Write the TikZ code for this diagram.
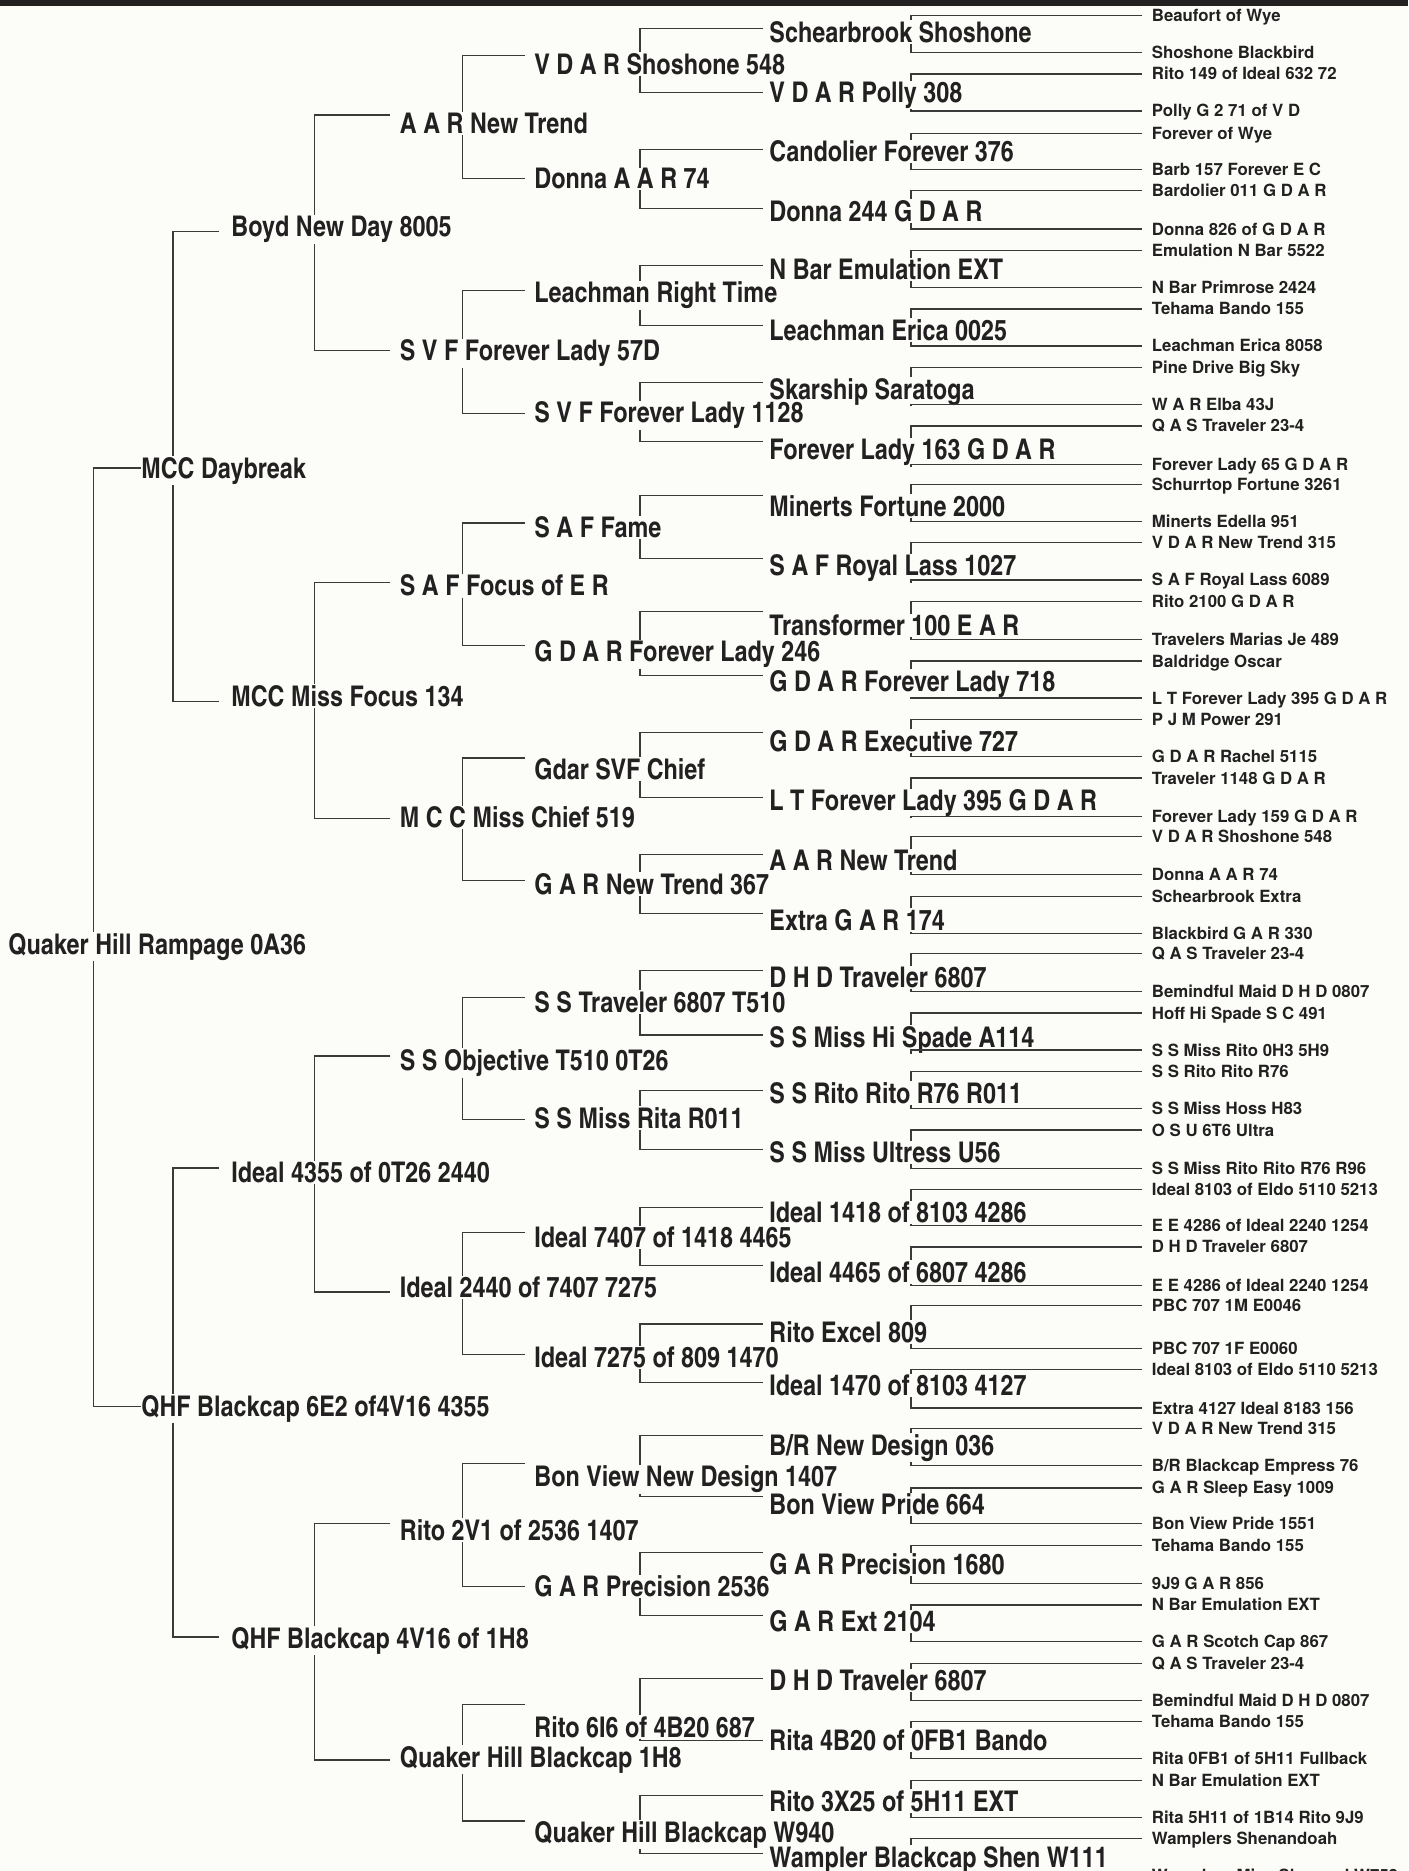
\documentclass[tikz,border=0pt]{standalone}
\usepackage{fontspec}
\setmainfont{TeX Gyre Heros}
\newfontfamily\heroscn{TeX Gyre Heros Cn}
\usetikzlibrary{backgrounds}
\definecolor{paper}{HTML}{FCFCF8}
\definecolor{ink}{HTML}{222021}
\definecolor{rule}{HTML}{3A3A3A}

\begin{document}
\begin{tikzpicture}[
        x=0.5pt, y=-0.5pt,
        tag/.style={anchor=base west, text=ink, inner xsep=2pt, inner ysep=0.3pt},
        horse/.style={tag, font=\heroscn\bfseries\fontsize{14.25}{17}\selectfont},
        leaf/.style={tag, font=\bfseries\fontsize{8.4}{10}\selectfont},
        link/.style={draw=rule, line width=0.6pt}
    ]
    \useasboundingbox (0,0) rectangle (1408,1871);
    \def\hb{10.2}
    \def\hl{6}
    % columns of the brackets
    \coordinate (b0) at (93.6,0);
    \coordinate (b1) at (172.9,0);
    \coordinate (b2) at (314.3,0);
    \coordinate (b3) at (462.4,0);
    \coordinate (b4) at (640,0);
    \coordinate (b5) at (911,0);
    % generation 0 and 1
    \node[horse] (g0-0) at (4,944+\hb) {Quaker Hill Rampage 0A36};
    \foreach \n/\tc/\ly/\lab in {0/468/468/MCC Daybreak,
        1/1406/1406.4/QHF Blackcap 6E2 of4V16 4355}{
        \node[horse] (g1-\n) at (137,\tc+\hb) {\lab};
        \coordinate (l1-\n) at (141,\ly);
    }
    % generation 2
    \foreach \n/\tc/\ly/\lab in {0/226.5/231.7/Boyd New Day 8005,
        1/696.3/701.6/MCC Miss Focus 134,
        2/1172.3/1167.9/Ideal 4355 of 0T26 2440,
        3/1638/1637/QHF Blackcap 4V16 of 1H8}{
        \node[horse] (g2-\n) at (227,\tc+\hb) {\lab};
        \coordinate (l2-\n) at (219,\ly);
    }
    % generation 3
    \foreach \n/\tc/\ly/\lab in {0/123.4/115/A A R New Trend,
        1/350.7/350.7/S V F Forever Lady 57D,
        2/585.8/582.3/S A F Focus of E R,
        3/817.4/818.5/M C C Miss Chief 519,
        4/1060.2/1056/S S Objective T510 0T26,
        5/1287.2/1292/Ideal 2440 of 7407 7275,
        6/1530/1523.7/Rito 2V1 of 2536 1407,
        7/1757/1760/Quaker Hill Blackcap 1H8}{
        \node[horse] (g3-\n) at (395.5,\tc+\hb) {\lab};
        \coordinate (l3-\n) at (390.3,\ly);
    }
    % generation 4
    \foreach \n/\tc/\ly/\lab in {0/64.2/55.4/V D A R Shoshone 548,
        1/178.8/178.2/Donna A A R 74,
        2/292.6/290.4/Leachman Right Time,
        3/412.5/413.5/S V F Forever Lady 1128,
        4/527.7/523/S A F Fame,
        5/651.4/645.6/G D A R Forever Lady 246,
        6/769.3/758/Gdar SVF Chief,
        7/884/880.4/G A R New Trend 367,
        8/1002.2/997.3/S S Traveler 6807 T510,
        9/1118.2/1119.5/S S Miss Rita R011,
        10/1237.7/1232.4/Ideal 7407 of 1418 4465,
        11/1357.4/1354.2/Ideal 7275 of 809 1470,
        12/1476.3/1463.8/Bon View New Design 1407,
        13/1586.5/1586.7/G A R Precision 2536,
        14/1726.8/1704.2/Rito 6I6 of 4B20 687,
        15/1831.8/1821/Quaker Hill Blackcap W940}{
        \node[horse] (g4-\n) at (530,\tc+\hb) {\lab};
        \coordinate (l4-\n) at (525,\ly);
    }
    % generation 5
    \foreach \n/\tc/\ly/\lab in {0/32.3/28.2/Schearbrook Shoshone,
        1/92/92.9/V D A R Polly 308,
        2/151.7/149.3/Candolier Forever 376,
        3/211/208.6/Donna 244 G D A R,
        4/269.3/265.6/N Bar Emulation EXT,
        5/330/325.5/Leachman Erica 0025,
        6/389/382.5/Skarship Saratoga,
        7/449.8/441.2/Forever Lady 163 G D A R,
        8/505.9/495.2/Minerts Fortune 2000,
        9/565.6/558.2/S A F Royal Lass 1027,
        10/625.2/611.5/Transformer 100 E A R,
        11/681.3/675.7/G D A R Forever Lady 718,
        12/741/732.6/G D A R Executive 727,
        13/800.6/797.4/L T Forever Lady 395 G D A R,
        14/860.3/854.3/A A R New Trend,
        15/920/913.1/Extra G A R 174,
        16/977.2/970.2/D H D Traveler 6807,
        17/1036.9/1034.9/S S Miss Hi Spade A114,
        18/1093/1090.7/S S Rito Rito R76 R011,
        19/1152.6/1149.4/S S Miss Ultress U56,
        20/1212.3/1207.6/Ideal 1418 of 8103 4286,
        21/1272/1265.7/Ideal 4465 of 6807 4286,
        22/1332/1323.9/Rito Excel 809,
        23/1385.3/1382.6/Ideal 1470 of 8103 4127,
        24/1445/1435.4/{B/R New Design 036},
        25/1504.6/1496.5/Bon View Pride 664,
        26/1564.3/1552.3/G A R Precision 1680,
        27/1621.6/1615.3/G A R Ext 2104,
        28/1680/1678.2/D H D Traveler 6807,
        29/1740/1740.6/Rita 4B20 of 0FB1 Bando,
        30/1801/1795.1/Rito 3X25 of 5H11 EXT,
        31/1857/1853.3/Wampler Blackcap Shen W111}{
        \node[horse] (g5-\n) at (765,\tc+\hb) {\lab};
        \coordinate (l5-\n) at (763,\ly);
    }
    % generation 6
    \foreach \ly/\lab [count=\n from 0] in {15.5/Beaufort of Wye, 52.5/Shoshone Blackbird,
        74/Rito 149 of Ideal 632 72, 111/Polly G 2 71 of V D,
        133.6/Forever of Wye, 169.4/Barb 157 Forever E C,
        190.9/Bardolier 011 G D A R, 229.1/Donna 826 of G D A R,
        250.6/Emulation N Bar 5522, 287.6/N Bar Primrose 2424,
        309/Tehama Bando 155, 346/Leachman Erica 8058,
        367.5/Pine Drive Big Sky, 404.5/W A R Elba 43J,
        426/Q A S Traveler 23-4, 464.2/Forever Lady 65 G D A R,
        484.4/Schurrtop Fortune 3261, 521.4/Minerts Edella 951,
        542.9/V D A R New Trend 315, 579.9/S A F Royal Lass 6089,
        601.4/Rito 2100 G D A R, 639.6/Travelers Marias Je 489,
        661/Baldridge Oscar, 698/L T Forever Lady 395 G D A R,
        719.5/P J M Power 291, 756.5/G D A R Rachel 5115,
        778/Traveler 1148 G D A R, 816.2/Forever Lady 159 G D A R,
        836.4/V D A R Shoshone 548, 874.6/Donna A A R 74,
        896.1/Schearbrook Extra, 933.1/Blackbird G A R 330,
        953.4/Q A S Traveler 23-4, 991.5/Bemindful Maid D H D 0807,
        1013/Hoff Hi Spade S C 491, 1050/S S Miss Rito 0H3 5H9,
        1071.5/S S Rito Rito R76, 1108.5/S S Miss Hoss H83,
        1130/O S U 6T6 Ultra, 1168.1/S S Miss Rito Rito R76 R96,
        1189.6/Ideal 8103 of Eldo 5110 5213, 1225.4/E E 4286 of Ideal 2240 1254,
        1246.9/D H D Traveler 6807, 1285.1/E E 4286 of Ideal 2240 1254,
        1305.4/PBC 707 1M E0046, 1348.3/PBC 707 1F E0060,
        1369.8/Ideal 8103 of Eldo 5110 5213, 1408/Extra 4127 Ideal 8183 156,
        1428.3/V D A R New Trend 315, 1465.3/{B/R Blackcap Empress 76},
        1487.9/G A R Sleep Easy 1009, 1523.7/Bon View Pride 1551,
        1545.2/Tehama Bando 155, 1583.4/9J9 G A R 856,
        1604.9/N Bar Emulation EXT, 1641.8/G A R Scotch Cap 867,
        1663.3/Q A S Traveler 23-4, 1700.3/Bemindful Maid D H D 0807,
        1721.8/Tehama Bando 155, 1758.8/Rita 0FB1 of 5H11 Fullback,
        1780.2/N Bar Emulation EXT, 1817.2/Rita 5H11 of 1B14 Rito 9J9,
        1838.7/Wamplers Shenandoah, 1875.7/Wamplers Miss Shenand W758}{
        \node[leaf] (g6-\n) at (1147.5,\ly+\hl) {\lab};
        \coordinate (l6-\n) at (1141.5,\ly);
    }
    % brackets, broken where they cross the parent's name
    \foreach \g/\last in {0/0,1/1,2/3,3/7,4/15,5/31}{
        \pgfmathtruncatemacro\h{\g+1}
        \foreach \n in {0,...,\last}{
            \pgfmathtruncatemacro\s{2*\n}
            \pgfmathtruncatemacro\d{2*\n+1}
            \draw[link] (l\h-\s) -- (l\h-\s -| b\g) -- (b\g |- g\g-\n.north);
            \draw[link] (b\g |- g\g-\n.south) -- (l\h-\d -| b\g) -- (l\h-\d);
        }
    }
    % paper and top rule
    \begin{scope}[on background layer]
        \fill[paper] (0,0) rectangle (1408,1871);
        \fill[ink] (0,0) rectangle (1408,6);
    \end{scope}
\end{tikzpicture}
\end{document}
